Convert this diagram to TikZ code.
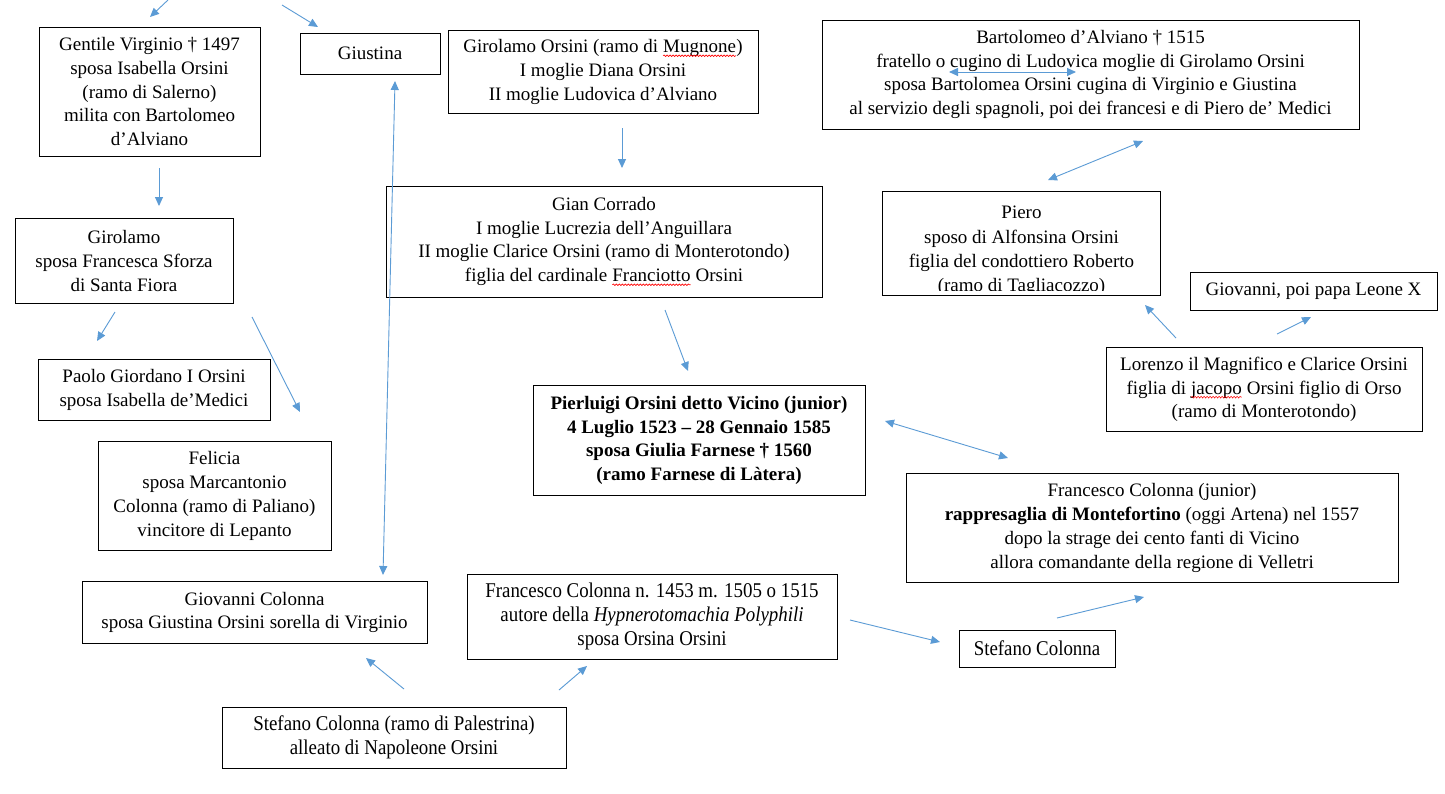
\documentclass[tikz,border=0pt]{standalone}
\usepackage{fontspec}
\setmainfont{Liberation Serif}
\newfontfamily\condfont[FakeStretch=0.9]{Liberation Serif}
\usetikzlibrary{arrows.meta,decorations.pathmorphing}
\newcommand\spellerr[1]{\tikz[baseline=(w.base)]{\node[inner sep=0pt,outer sep=0pt,minimum width=0pt,minimum height=0pt,draw=none,align=left](w){#1};
  \draw[red, line width=0.6pt, decorate, decoration={snake, amplitude=0.8pt, segment length=3pt}]
    ([yshift=-3pt]w.base west) -- ([yshift=-3pt]w.base east);}}
\definecolor{arrblue}{HTML}{5B9BD5}
\tikzset{
  box/.style={draw=black, line width=1pt, align=center, inner sep=0pt,
    font=\fontsize{19}{23.8}\selectfont},
  cbox/.style={box, font=\condfont\fontsize{21}{24}\selectfont},
  arr/.style={draw=arrblue, line width=0.9pt, -{Triangle[length=9pt,width=8pt]}},
  darr/.style={draw=arrblue, line width=0.9pt, {Triangle[length=9pt,width=8pt]}-{Triangle[length=9pt,width=8pt]}}
}
\begin{document}
\begin{tikzpicture}[x=1pt,y=-1pt]
\fill[white] (0,0) rectangle (1445,793);
\useasboundingbox (0,0) rectangle (1445,793);

% boxes
\node[box, minimum width=221, minimum height=129] (gentile) at (149.5,91.5)
  {Gentile Virginio † 1497\\sposa Isabella Orsini\\(ramo di Salerno)\\milita con Bartolomeo\\d’Alviano};
\node[box, minimum width=140, minimum height=41] (giustina) at (370,53.5) {Giustina};
\node[box, minimum width=310, minimum height=83] (girorsini) at (603,72)
  {Girolamo Orsini (ramo di \spellerr{Mugnone})\\I moglie Diana Orsini\\II moglie Ludovica d’Alviano};
\node[box, minimum width=537, minimum height=109] (bartolomeo) at (1090.5,74.5)
  {Bartolomeo d’Alviano † 1515\\fratello o cugino di Ludovica moglie di Girolamo Orsini\\sposa Bartolomea Orsini cugina di Virginio e Giustina\\al servizio degli spagnoli, poi dei francesi e di Piero de’ Medici};
\node[box, minimum width=436, minimum height=111] (giancorrado) at (604,241.5)
  {Gian Corrado\\I moglie Lucrezia dell’Anguillara\\II moglie Clarice Orsini (ramo di Monterotondo)\\figlia del cardinale \spellerr{Franciotto} Orsini};
\node[box, draw=none, minimum width=277, minimum height=103] (piero) at (1021.5,243.5) {};
\node[align=center, inner sep=0pt, font=\fontsize{19}{24.2}\selectfont] (pierotext) at (1021.5,251)
  {Piero\\sposo di Alfonsina Orsini\\figlia del condottiero Roberto\\(ramo di Tagliacozzo)};
\fill[white] ([yshift=5pt]piero.south west) rectangle ([yshift=-8pt]piero.south east);
\draw[line width=1pt] (piero.south west) rectangle (piero.north east);
\node[box, minimum width=218, minimum height=85] (girolamo) at (124,261)
  {Girolamo\\sposa Francesca Sforza\\di Santa Fiora};
\node[box, minimum width=247, minimum height=38] (giovanni) at (1313.5,291) {Giovanni, poi papa Leone X};
\node[box, minimum width=316, minimum height=84] (lorenzo) at (1264,389.5)
  {Lorenzo il Magnifico e Clarice Orsini\\figlia di \spellerr{jacopo} Orsini figlio di Orso\\(ramo di Monterotondo)};
\node[box, minimum width=232, minimum height=61] (paolo) at (154,390)
  {Paolo Giordano I Orsini\\sposa Isabella de’Medici};
\node[box, minimum width=332, minimum height=110, font=\bfseries\fontsize{19}{23.8}\selectfont] (pierluigi) at (699,440.5)
  {Pierluigi Orsini detto Vicino (junior)\\4 Luglio 1523 – 28 Gennaio 1585\\sposa Giulia Farnese † 1560\\(ramo Farnese di Làtera)};
\node[box, minimum width=233, minimum height=109] (felicia) at (214.5,496)
  {Felicia\\sposa Marcantonio\\Colonna (ramo di Paliano)\\vincitore di Lepanto};
\node[box, minimum width=492, minimum height=109] (fcjunior) at (1152,528)
  {Francesco Colonna (junior)\\\textbf{rappresaglia di Montefortino} (oggi Artena) nel 1557\\dopo la strage dei cento fanti di Vicino\\allora comandante della regione di Velletri};
\node[box, minimum width=345, minimum height=62] (giovcolonna) at (254.5,612.5)
  {Giovanni Colonna\\sposa Giustina Orsini sorella di Virginio};
\node[cbox, minimum width=370, minimum height=85] (fc1453) at (652,616.5)
  {Francesco Colonna n. 1453 m. 1505 o 1515\\autore della \textit{Hypnerotomachia Polyphili}\\sposa Orsina Orsini};
\node[cbox, minimum width=156, minimum height=37] (stefano) at (1037,648.5) {Stefano Colonna};
\node[cbox, minimum width=344, minimum height=61] (stefpal) at (394,737.5)
  {Stefano Colonna (ramo di Palestrina)\\alleato di Napoleone Orsini};

% arrow end points
\coordinate (a1s) at (168,0);    \coordinate (a1e) at (150,17);
\coordinate (a2s) at (282,5);    \coordinate (a2e) at (318,27);
\coordinate (a3s) at (383,575);  \coordinate (a3e) at (395,81);
\coordinate (a4s) at (622,128);  \coordinate (a4e) at (622,168);
\coordinate (a5s) at (949,72);   \coordinate (a5e) at (1076,72);
\coordinate (a6s) at (1048,180); \coordinate (a6e) at (1143,141);
\coordinate (a7s) at (159,168);  \coordinate (a7e) at (159,206);
\coordinate (a8s) at (115,312);  \coordinate (a8e) at (97,341);
\coordinate (a9s) at (252,317);  \coordinate (a9e) at (300,412);
\coordinate (a10s) at (665,310); \coordinate (a10e) at (688,371);
\coordinate (a11s) at (1176,338);\coordinate (a11e) at (1145,305);
\coordinate (a12s) at (1277,334);\coordinate (a12e) at (1311,317);
\coordinate (a13s) at (885,421); \coordinate (a13e) at (1008,458);
\coordinate (a14s) at (404,689); \coordinate (a14e) at (366,658);
\coordinate (a15s) at (559,690); \coordinate (a15e) at (587,666);
\coordinate (a16s) at (850,620); \coordinate (a16e) at (940,642);
\coordinate (a17s) at (1057,618);\coordinate (a17e) at (1144,597);

\draw[arr] (a1s) -- (a1e);
\draw[arr] (a2s) -- (a2e);
\draw[darr] (a3s) -- (a3e);
\draw[arr] (a4s) -- (a4e);
\draw[darr] (a5s) -- (a5e);
\draw[darr] (a6s) -- (a6e);
\draw[arr] (a7s) -- (a7e);
\draw[arr] (a8s) -- (a8e);
\draw[arr] (a9s) -- (a9e);
\draw[arr] (a10s) -- (a10e);
\draw[arr] (a11s) -- (a11e);
\draw[arr] (a12s) -- (a12e);
\draw[darr] (a13s) -- (a13e);
\draw[arr] (a14s) -- (a14e);
\draw[arr] (a15s) -- (a15e);
\draw[arr] (a16s) -- (a16e);
\draw[arr] (a17s) -- (a17e);
\end{tikzpicture}
\end{document}
